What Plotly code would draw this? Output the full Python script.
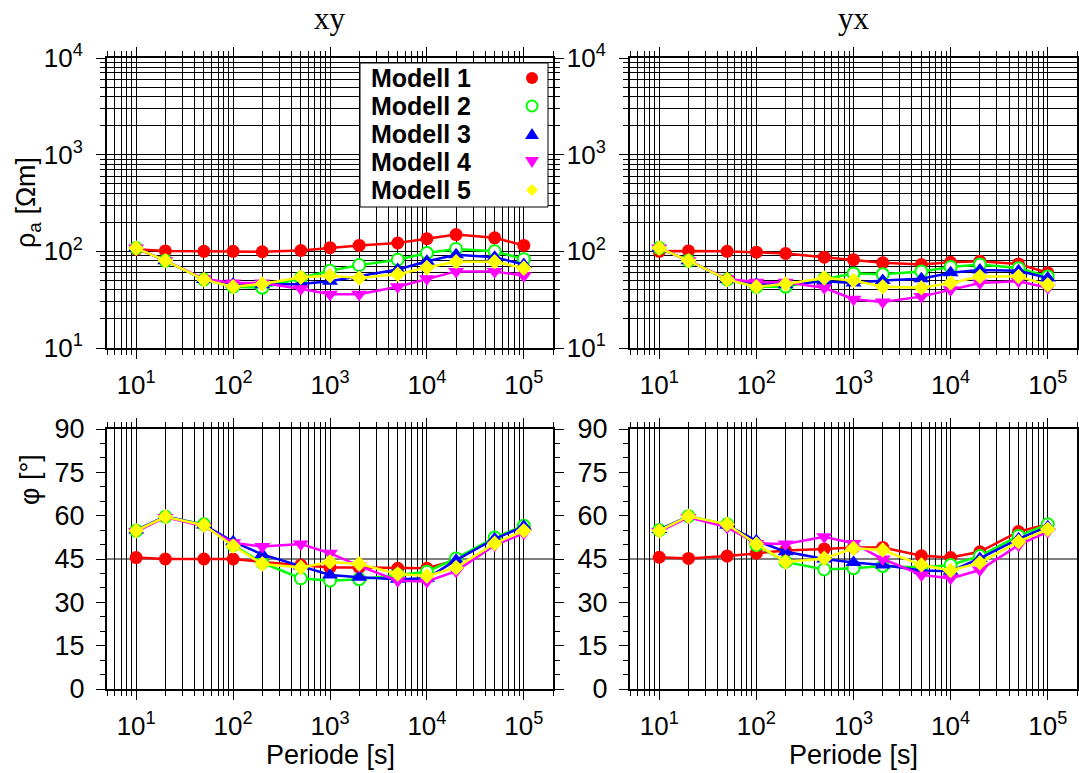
import math
import plotly.graph_objects as go

# ---------------- data ----------------
periods = [10, 20, 50, 100, 200, 500, 1000, 2000, 5000, 10000, 20000, 50000, 100000]
model_names = ["Modell 1", "Modell 2", "Modell 3", "Modell 4", "Modell 5"]

rho_xy_m1 = [105, 101, 100, 100, 99, 102, 109, 115, 122, 135, 149, 138, 115]
rho_xy_m2 = [108, 80, 51, 43, 42, 53, 63, 72, 82, 96, 106, 100, 83]
rho_xy_m3 = [108, 80, 51, 46, 45, 46, 49, 55, 65, 79, 92, 87, 73]
rho_xy_m4 = [108, 80, 52, 47, 47, 41, 36, 36, 43, 52, 62, 62, 56]
rho_xy_m5 = [108, 80, 51, 43, 46, 54, 56, 53, 58, 68, 78, 78, 67]

rho_yx_m1 = [100, 101, 100, 98, 95, 87, 82, 76, 73, 77, 79, 74, 60]
rho_yx_m2 = [108, 80, 51, 43, 43, 52, 59, 58, 62, 69, 73, 67, 55]
rho_yx_m3 = [108, 80, 51, 46, 45, 49, 47, 50, 52, 60, 64, 63, 53]
rho_yx_m4 = [108, 80, 52, 48, 48, 42, 32, 30, 34, 40, 47, 49, 42]
rho_yx_m5 = [108, 80, 51, 43, 46, 53, 50, 43, 42, 47, 55, 55, 45]

phi_xy_m1 = [45.5, 45, 45, 45, 44, 42.9, 42.1, 42.1, 41.8, 41.8, 44.6, 52.2, 56.2]
phi_xy_m2 = [54.8, 59.6, 57, 49.8, 43.7, 38.3, 37.5, 38, 39.5, 40.6, 45.2, 52.4, 56.5]
phi_xy_m3 = [55, 59.8, 56.8, 51, 46.6, 42.6, 39.5, 38.7, 38, 38.3, 44.6, 52, 56.3]
phi_xy_m4 = [54.5, 59.4, 56.3, 50.6, 49.3, 50.2, 47, 42.6, 37.5, 37.2, 40.8, 49.8, 53.9]
phi_xy_m5 = [54.8, 59.6, 56.7, 49.5, 43.3, 42.1, 44, 43.3, 39.8, 39.1, 42, 50.4, 54.8]

phi_yx_m1 = [45.6, 45.2, 46, 47, 47.9, 48.5, 49, 49, 46.1, 45.5, 47.5, 54.5, 57]
phi_yx_m2 = [55, 59.8, 57, 49.8, 44, 41.4, 41.8, 42.6, 42.1, 42.9, 46, 53, 57]
phi_yx_m3 = [55.2, 59.8, 56.7, 51.3, 47.5, 45, 43.8, 42.9, 41, 40.8, 45.2, 52, 56.2]
phi_yx_m4 = [54.5, 59.4, 56, 50.4, 50.2, 52.7, 50.4, 45, 39.5, 38.3, 41.2, 49.8, 54.5]
phi_yx_m5 = [54.8, 59.8, 57, 50.2, 44, 45.2, 48.7, 48.1, 42.9, 41, 43.7, 51, 55.3]

x_tickvals = [10, 100, 1000, 10000, 100000]
x_ticktext = ["10<sup>1</sup>", "10<sup>2</sup>", "10<sup>3</sup>", "10<sup>4</sup>", "10<sup>5</sup>"]
rho_tickvals = [10, 100, 1000, 10000]
rho_ticktext = ["10<sup>1</sup>", "10<sup>2</sup>", "10<sup>3</sup>", "10<sup>4</sup>"]
phi_tickvals = [0, 15, 30, 45, 60, 75, 90]
phi_ticktext = ["0", "15", "30", "45", "60", "75", "90"]

# ---------------- style ----------------
W, H = 1079, 773
SANS = "Liberation Sans, Arial, sans-serif"
SERIF = "Liberation Serif, Times New Roman, serif"
colors = ["#FF0000", "#00FF00", "#0000FF", "#FF00FF", "#FFFF00"]
markers = [
    dict(symbol="circle", size=13, color="#FF0000"),
    dict(symbol="circle", size=12, color="white", line=dict(color="#00FF00", width=2)),
    dict(symbol="triangle-up", size=14, color="#0000FF"),
    dict(symbol="triangle-down", size=14, color="#FF00FF"),
    dict(symbol="diamond", size=12, color="#FFFF00"),
]

def px2x(p):
    return p / W

def px2y(p):
    return 1 - p / H

# panel pixel geometry
LX = (107, 553)
RX = (630, 1077)
TY = (58, 348)
BY = (429, 689)

fig = go.Figure()

panels = [
    ("x", "y", [rho_xy_m1, rho_xy_m2, rho_xy_m3, rho_xy_m4, rho_xy_m5]),
    ("x2", "y2", [rho_yx_m1, rho_yx_m2, rho_yx_m3, rho_yx_m4, rho_yx_m5]),
    ("x3", "y3", [phi_xy_m1, phi_xy_m2, phi_xy_m3, phi_xy_m4, phi_xy_m5]),
    ("x4", "y4", [phi_yx_m1, phi_yx_m2, phi_yx_m3, phi_yx_m4, phi_yx_m5]),
]
for xa, ya, series in panels:
    for i, vals in enumerate(series):
        fig.add_trace(go.Scatter(
            x=periods, y=vals, xaxis=xa, yaxis=ya, mode="lines+markers",
            line=dict(color=colors[i], width=2.5), marker=markers[i],
            name=model_names[i], showlegend=False, cliponaxis=False,
        ))

minor_x = [d * 10 ** e for e in range(0, 6) for d in range(2, 10) if 5 <= d * 10 ** e <= 2e5]
minor_y = [d * 10 ** e for e in range(1, 4) for d in range(2, 10)]

logfont = dict(family=SANS, size=26, color="black")
linfont = dict(family=SANS, size=27, color="black")

def xaxis_cfg(dom, anchor):
    return dict(
        type="log", range=[math.log10(5), math.log10(2e5)], domain=dom, anchor=anchor,
        showline=True, linewidth=2, linecolor="black", mirror="ticks",
        ticks="outside", ticklen=9, tickwidth=1, tickcolor="black",
        tickvals=x_tickvals, ticktext=x_ticktext, tickfont=logfont,
        showgrid=True, gridcolor="black", gridwidth=1, zeroline=False,
        ticklabelstandoff=4, automargin=False,
        minor=dict(tickmode="array", tickvals=minor_x, ticks="outside", ticklen=5,
                   tickwidth=1, tickcolor="black", showgrid=True,
                   gridcolor="black", gridwidth=1),
    )

def rho_axis_cfg(dom, anchor):
    return dict(
        type="log", range=[1, 4], domain=dom, anchor=anchor,
        showline=True, linewidth=2, linecolor="black", mirror="ticks",
        ticks="outside", ticklen=9, tickwidth=1, tickcolor="black",
        tickvals=rho_tickvals, ticktext=rho_ticktext, tickfont=logfont,
        showgrid=True, gridcolor="black", gridwidth=1, zeroline=False,
        ticklabelstandoff=8, automargin=False,
        minor=dict(tickmode="array", tickvals=minor_y, ticks="outside", ticklen=5,
                   tickwidth=1, tickcolor="black", showgrid=True,
                   gridcolor="black", gridwidth=1),
    )

def phi_axis_cfg(dom, anchor):
    return dict(
        range=[0, 90], domain=dom, anchor=anchor,
        showline=True, linewidth=2, linecolor="black", mirror="ticks",
        ticks="outside", ticklen=9, tickwidth=1, tickcolor="black",
        tickvals=phi_tickvals, ticktext=phi_ticktext, tickfont=linfont,
        showgrid=False, zeroline=False, ticklabelstandoff=6, automargin=False,
        minor=dict(dtick=5, ticks="outside", ticklen=5, tickwidth=1, tickcolor="black",
                   showgrid=False),
    )

xl = [px2x(LX[0]), px2x(LX[1])]
xr = [px2x(RX[0]), px2x(RX[1])]
yt = [px2y(TY[1]), px2y(TY[0])]
yb = [px2y(BY[1]), px2y(BY[0])]

fig.update_layout(
    width=W, height=H, autosize=False,
    margin=dict(l=0, r=0, t=0, b=0, pad=0, autoexpand=False),
    showlegend=False,
    paper_bgcolor="white", plot_bgcolor="white",
    xaxis=xaxis_cfg(xl, "y"), yaxis=rho_axis_cfg(yt, "x"),
    xaxis2=xaxis_cfg(xr, "y2"), yaxis2=rho_axis_cfg(yt, "x2"),
    xaxis3=xaxis_cfg(xl, "y3"), yaxis3=phi_axis_cfg(yb, "x3"),
    xaxis4=xaxis_cfg(xr, "y4"), yaxis4=phi_axis_cfg(yb, "x4"),
)

shapes = []
# horizontal 45 deg lines in phase panels
for dom, ya in ((xl, "y3"), (xr, "y4")):
    shapes.append(dict(type="line", xref="paper", yref=ya,
                       x0=dom[0], x1=dom[1], y0=45, y1=45,
                       line=dict(color="black", width=1), layer="below"))

# legend box
LB = (360, 63, 548, 207)
shapes.append(dict(type="rect", xref="paper", yref="paper",
                   x0=px2x(LB[0]), x1=px2x(LB[2]), y0=px2y(LB[3]), y1=px2y(LB[1]),
                   fillcolor="white", line=dict(color="black", width=1), layer="above"))
row_y = [LB[1] + 15 + 28 * i for i in range(5)]
mx = 532
for i, ry in enumerate(row_y):
    if i == 0:
        r = 6
        shapes.append(dict(type="circle", xref="paper", yref="paper",
                           x0=px2x(mx - r), x1=px2x(mx + r), y0=px2y(ry + r), y1=px2y(ry - r),
                           fillcolor=colors[i], line=dict(color=colors[i], width=0), layer="above"))
    elif i == 1:
        r = 5.5
        shapes.append(dict(type="circle", xref="paper", yref="paper",
                           x0=px2x(mx - r), x1=px2x(mx + r), y0=px2y(ry + r), y1=px2y(ry - r),
                           fillcolor="white", line=dict(color=colors[i], width=2), layer="above"))
    elif i == 2:
        path = "M {} {} L {} {} L {} {} Z".format(px2x(mx - 7), px2y(ry + 5), px2x(mx + 7), px2y(ry + 5),
                                                 px2x(mx), px2y(ry - 6))
        shapes.append(dict(type="path", xref="paper", yref="paper", path=path,
                           fillcolor=colors[i], line=dict(width=0), layer="above"))
    elif i == 3:
        path = "M {} {} L {} {} L {} {} Z".format(px2x(mx - 7), px2y(ry - 5), px2x(mx + 7), px2y(ry - 5),
                                                 px2x(mx), px2y(ry + 6))
        shapes.append(dict(type="path", xref="paper", yref="paper", path=path,
                           fillcolor=colors[i], line=dict(width=0), layer="above"))
    else:
        path = "M {} {} L {} {} L {} {} L {} {} Z".format(px2x(mx - 6), px2y(ry), px2x(mx), px2y(ry - 6),
                                                         px2x(mx + 6), px2y(ry), px2x(mx), px2y(ry + 6))
        shapes.append(dict(type="path", xref="paper", yref="paper", path=path,
                           fillcolor=colors[i], line=dict(width=0), layer="above"))

annotations = []
for i, ry in enumerate(row_y):
    annotations.append(dict(xref="paper", yref="paper", x=px2x(369), y=px2y(ry),
                            xanchor="left", yanchor="middle", showarrow=False,
                            text="<b>" + model_names[i] + "</b>",
                            font=dict(family=SANS, size=25, color="black")))

def ann(text, x, y, size=27, family=SANS, angle=0):
    annotations.append(dict(xref="paper", yref="paper", x=px2x(x), y=px2y(y),
                            xanchor="center", yanchor="middle", showarrow=False,
                            text=text, textangle=angle,
                            font=dict(family=family, size=size, color="black")))

ann("xy", (LX[0] + LX[1]) / 2, 19, size=31, family=SERIF)
ann("yx", (RX[0] + RX[1]) / 2, 19, size=31, family=SERIF)
ann("ρ<sub>a</sub> [Ωm]", 28, 203, angle=-90)
ann("φ [°]", 30, 480, angle=-90)
ann("Periode [s]", (LX[0] + LX[1]) / 2, 755)
ann("Periode [s]", (RX[0] + RX[1]) / 2, 755)

fig.update_layout(shapes=shapes, annotations=annotations)
fig.write_html("out.html")
